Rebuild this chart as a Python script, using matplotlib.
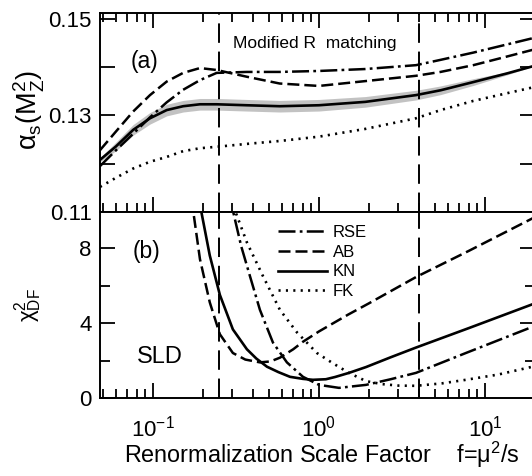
import numpy as np
import matplotlib
matplotlib.use('Agg')
import matplotlib.pyplot as plt
from matplotlib.ticker import FixedLocator, FuncFormatter, LogLocator, NullFormatter

plt.rcParams['font.family'] = ['Liberation Sans', 'DejaVu Sans']
plt.rcParams['mathtext.fontset'] = 'custom'
plt.rcParams['mathtext.rm'] = 'Liberation Sans'
plt.rcParams['mathtext.it'] = 'Liberation Sans:italic'
plt.rcParams['mathtext.sf'] = 'Liberation Sans'

# panel (a): alpha_s(M_Z^2) vs scale factor f
f_a = [0.048, 0.06, 0.076, 0.096, 0.121, 0.152, 0.192, 0.242, 0.368, 0.58, 1.0, 1.9, 3.84, 5.4, 8.5, 13.6, 20]
alpha_rse = [0.1195, 0.1228, 0.1262, 0.1296, 0.1327, 0.1353, 0.1373, 0.1388, 0.1390, 0.1390, 0.1392, 0.1396, 0.1404, 0.1415, 0.1430, 0.1447, 0.1461]
alpha_ab = [0.1228, 0.1267, 0.1308, 0.1342, 0.1370, 0.1388, 0.1398, 0.1394, 0.1380, 0.1366, 0.1361, 0.1371, 0.1382, 0.1390, 0.1404, 0.1422, 0.1437]
alpha_kn = [0.1208, 0.1236, 0.1270, 0.1294, 0.1311, 0.1319, 0.1323, 0.1323, 0.1321, 0.1319, 0.1321, 0.1328, 0.1342, 0.1352, 0.1369, 0.1387, 0.1403]
alpha_fk = [0.1152, 0.1171, 0.1190, 0.1204, 0.1214, 0.1226, 0.1232, 0.1235, 0.1241, 0.1247, 0.1256, 0.1272, 0.1294, 0.1311, 0.1330, 0.1346, 0.1359]
kn_err = [0.0004, 0.0009, 0.0011, 0.0012, 0.0012, 0.0012, 0.0012, 0.0012, 0.0012, 0.0012, 0.0012, 0.0011, 0.0010, 0.0009, 0.0007, 0.0003, 0.0]

# panel (b): chi^2 per degree of freedom
f_rse = [0.29, 0.303, 0.34, 0.384, 0.441, 0.528, 0.641, 0.801, 1.0, 1.32, 1.92, 2.7, 3.84, 7.67, 20]
chi_rse = [11.0, 10.0, 8.1, 6.5, 4.7, 2.96, 1.9, 1.13, 0.7, 0.54, 0.7, 1.0, 1.34, 2.4, 3.85]
f_ab = [0.165, 0.174, 0.192, 0.22, 0.253, 0.303, 0.36, 0.441, 0.51, 0.582, 0.7, 0.801, 1.0, 1.5, 2.0, 3.84, 8, 20]
chi_ab = [11.5, 10.1, 7.4, 5.1, 3.4, 2.4, 2.05, 1.9, 1.95, 2.15, 2.6, 3.0, 3.55, 4.45, 5.05, 6.45, 7.85, 9.65]
f_kn = [0.185, 0.195, 0.22, 0.253, 0.303, 0.368, 0.42, 0.486, 0.57, 0.669, 0.8, 0.92, 1.1, 1.25, 1.516, 1.92, 2.7, 3.84, 8, 20]
chi_kn = [11.5, 10.0, 7.6, 5.5, 3.66, 2.6, 2.1, 1.67, 1.38, 1.13, 1.02, 0.97, 1.0, 1.12, 1.34, 1.65, 2.17, 2.69, 3.73, 5.05]
f_fk = [0.3, 0.312, 0.368, 0.46, 0.582, 0.737, 0.972, 1.214, 1.516, 1.92, 2.4, 3.03, 3.84, 5.5, 7.67, 12, 20]
chi_fk = [11.0, 10.0, 8.3, 6.5, 4.7, 3.5, 2.4, 1.85, 1.34, 0.9, 0.74, 0.66, 0.65, 0.78, 0.97, 1.25, 1.7]

matching_f = [0.25, 4.0]
labels = ['RSE', 'AB', 'KN', 'FK']

styles = {
    'RSE': (0, (6.8, 1.7, 1.1, 1.7)),
    'AB': (0, (4.8, 2.0)),
    'KN': '-',
    'FK': (0, (0.8, 2.0)),
}

fig = plt.figure(figsize=(5.32, 4.76), dpi=100)
W, H = 532.0, 476.0
ax_a = fig.add_axes([100 / W, 1 - 212 / H, 435 / W, 199 / H])
ax_b = fig.add_axes([100 / W, 1 - 398 / H, 435 / W, 186 / H], sharex=ax_a)

# Panel (a)
ax_a.fill_between(f_a, np.array(alpha_kn) - np.array(kn_err), np.array(alpha_kn) + np.array(kn_err),
                  color='0.72', lw=0, alpha=0.85)
ax_a.plot(f_a, alpha_rse, color='k', lw=1.8, ls=styles['RSE'])
ax_a.plot(f_a, alpha_ab, color='k', lw=1.8, ls=styles['AB'])
ax_a.plot(f_a, alpha_kn, color='k', lw=1.9, ls=styles['KN'])
ax_a.plot(f_a, alpha_fk, color='k', lw=1.9, ls=styles['FK'])

# Panel (b)
lines = []
for name, f, chi in [('RSE', f_rse, chi_rse), ('AB', f_ab, chi_ab), ('KN', f_kn, chi_kn), ('FK', f_fk, chi_fk)]:
    lw = 1.9 if name in ('KN', 'FK') else 1.8
    ln, = ax_b.plot(f, chi, color='k', lw=lw, ls=styles[name], label=name)
    lines.append(ln)

for ax in (ax_a, ax_b):
    for fv in matching_f:
        ax.axvline(fv, color='k', lw=1.4, ls=(0, (10, 4.5)))
    ax.set_xscale('log')
    for sp in ax.spines.values():
        sp.set_linewidth(1.4)
    ax.xaxis.set_major_locator(LogLocator(base=10, numticks=10))
    ax.xaxis.set_minor_locator(LogLocator(base=10, subs=np.arange(2, 10), numticks=10))
    ax.xaxis.set_minor_formatter(NullFormatter())
    ax.tick_params(which='major', direction='in', length=11, width=1.3, labelsize=16, pad=6)
    ax.tick_params(which='minor', direction='in', length=6.5, width=1.3)

ax_a.set_xlim(0.048, 20)
ax_a.set_ylim(0.11, 0.1512)
ax_a.yaxis.set_major_locator(FixedLocator([0.11, 0.12, 0.13, 0.14, 0.15]))
ax_a.yaxis.set_major_formatter(FuncFormatter(lambda v, p: '%.2f' % v if round(v * 100) % 2 == 1 else ''))
ax_a.tick_params(which='both', top=True, bottom=True, left=True, right=True, labelbottom=False)

ax_b.set_ylim(0, 9.92)
ax_b.yaxis.set_major_locator(FixedLocator([0, 4, 8]))
ax_b.yaxis.set_minor_locator(FixedLocator([2, 6]))
ax_b.tick_params(which='both', top=False, bottom=True, left=True, right=True)
ax_b.tick_params(axis='y', which='minor', length=7)
ax_b.tick_params(axis='x', which='major', pad=13)

# Labels and annotations
ax_a.set_ylabel(r'$\mathrm{\alpha_s(M_Z^2)}$', fontsize=19.5)
ax_a.yaxis.set_label_coords(-0.163, 0.51)
ax_a.yaxis.label.set_va('center')
ax_b.set_ylabel(r'$\mathrm{\chi^2_{DF}}$', fontsize=16)
ax_b.yaxis.set_label_coords(-0.166, 0.5)
ax_b.yaxis.label.set_va('center')
ax_b.set_xlabel(r'Renormalization Scale Factor    f=$\mathrm{\mu^2}$/s', fontsize=16.8)
ax_b.xaxis.set_label_coords(0.509, -0.306)
ax_b.xaxis.label.set_va('center')

ax_a.text(0.103, 0.754, '(a)', transform=ax_a.transAxes, fontsize=16.5, ha='center', va='center')
ax_a.text(0.494, 0.849, 'Modified R  matching', transform=ax_a.transAxes, fontsize=12.5, ha='center', va='center')
ax_b.text(0.106, 0.785, '(b)', transform=ax_b.transAxes, fontsize=16.5, ha='center', va='center')
ax_b.text(0.138, 0.22, 'SLD', transform=ax_b.transAxes, fontsize=17, ha='center', va='center')

ax_b.legend(lines, labels, loc='upper left', bbox_to_anchor=(0.409, 0.93), frameon=False,
            fontsize=12, handlelength=2.95, handletextpad=0.36, labelspacing=0.28,
            borderpad=0, borderaxespad=0)

fig.savefig('out.png', dpi=100)
